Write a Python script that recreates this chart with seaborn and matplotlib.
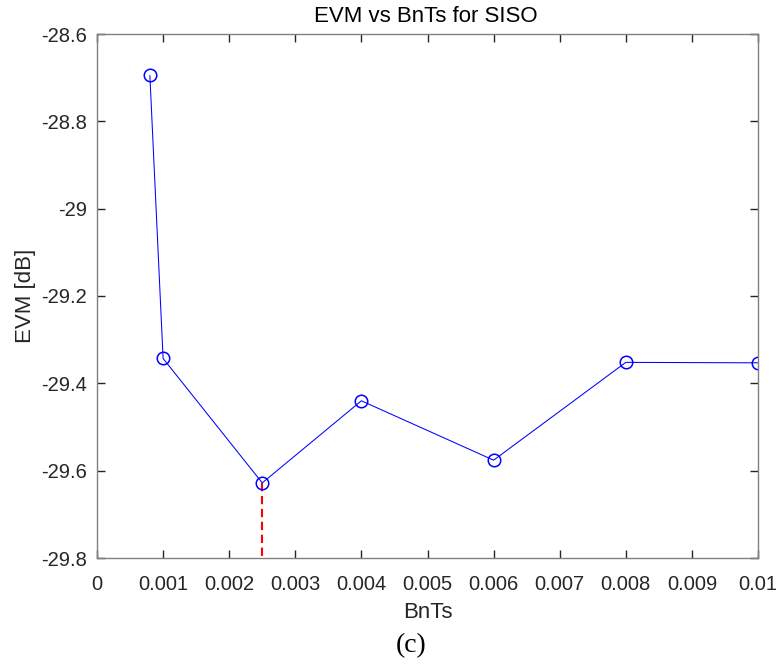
import matplotlib
matplotlib.use("Agg")
import matplotlib.pyplot as plt
import seaborn as sns
import pandas as pd

# BnTs sweep and the measured EVM for each setting
bnts = [0.0008, 0.001, 0.0025, 0.004, 0.006, 0.008, 0.01]
evm_db = [-28.695, -29.343, -29.628, -29.44, -29.576, -29.352, -29.353]

# optimum BnTs marked with a dropline to the axis floor
best_bnts = 0.0025
best_evm = -29.628
y_floor = -29.8

x_ticks = [0, 0.001, 0.002, 0.003, 0.004, 0.005, 0.006, 0.007, 0.008, 0.009, 0.01]
x_tick_labels = ["0", "0.001", "0.002", "0.003", "0.004", "0.005",
                 "0.006", "0.007", "0.008", "0.009", "0.01"]
y_ticks = [-29.8, -29.6, -29.4, -29.2, -29.0, -28.8, -28.6]
y_tick_labels = ["-29.8", "-29.6", "-29.4", "-29.2", "-29", "-28.8", "-28.6"]

sns.set_style("white")
plt.rcParams["font.family"] = ["Liberation Sans", "DejaVu Sans"]

df = pd.DataFrame({"BnTs": bnts, "EVM": evm_db})

fig = plt.figure(figsize=(7.78, 6.68), dpi=100)
ax = fig.add_axes([97 / 778, 1 - 558 / 668, 661 / 778, 524 / 668])

sns.lineplot(data=df, x="BnTs", y="EVM", ax=ax, sort=False,
             color="#0000ff", linewidth=0.75, marker="o", markersize=9,
             markerfacecolor="none", markeredgecolor="#0000ff",
             markeredgewidth=1.1)

ax.plot([best_bnts, best_bnts], [best_evm, y_floor], color="#ff0000",
        linestyle=(0, (4, 2.2)), linewidth=1.5, zorder=1)

ax.set_xlim(0, 0.01)
ax.set_ylim(-29.8, -28.6)
ax.set_xticks(x_ticks)
ax.set_xticklabels(x_tick_labels)
ax.set_yticks(y_ticks)
ax.set_yticklabels(y_tick_labels)

tick_color = "#262626"
ax.tick_params(axis="both", which="major", direction="in", length=6,
               width=1.0, color=tick_color, labelcolor=tick_color,
               labelsize=14.5, top=True, right=True,
               bottom=True, left=True)
ax.tick_params(axis="x", pad=12)
ax.tick_params(axis="y", pad=7)

for sp in ax.spines.values():
    sp.set_color("#808080")
    sp.set_linewidth(1.0)
    sp.set_visible(True)

ax.set_xlabel("BnTs", fontsize=16, color=tick_color)
ax.set_ylabel("EVM [dB]", fontsize=16, color=tick_color)
ax.xaxis.set_label_coords(0.5, -0.084)
ax.yaxis.set_label_coords(-0.092, 0.5)

fig.text(0.547, 0.975, "EVM vs BnTs for SISO", ha="center", va="center",
         fontsize=16, color="black")
fig.text(0.529, 0.033, "(c)", ha="center", va="center", fontsize=20,
         family=["Liberation Serif", "DejaVu Serif"], color="black")

fig.savefig("out.png", dpi=100, facecolor="white")
